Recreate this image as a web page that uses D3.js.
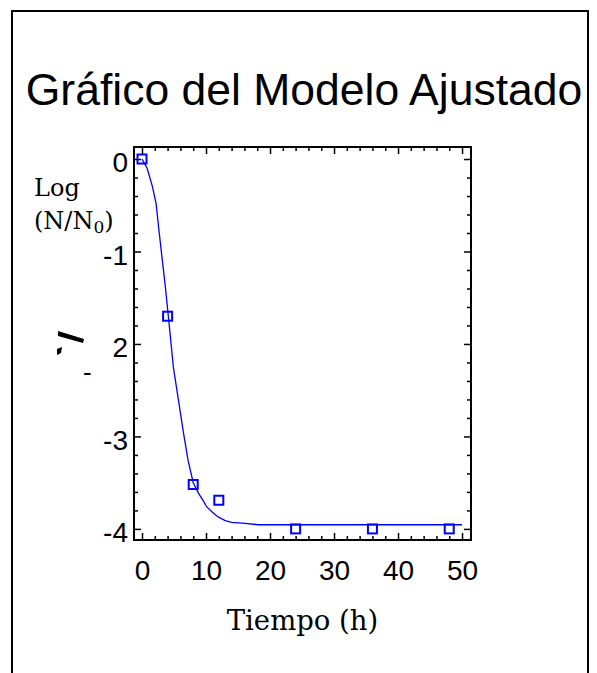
<!DOCTYPE html>
<html>
<head>
<meta charset="utf-8">
<script src="https://cdn.jsdelivr.net/npm/d3@7"></script>
<style>
  body { margin: 0; background: #fff; }
  svg { display: block; }
</style>
</head>
<body>
<svg id="s" width="597" height="673"></svg>
<script>
// Data
const obsTime = [0, 4, 8, 12, 24, 36, 48],
  obsLog = [0, -1.70, -3.52, -3.69, -4.00, -4.00, -4.00],
  fitTime = [0, 0.8, 1.6, 2.2, 2.6, 3.1, 3.6, 4.1, 4.9, 5.7, 6.5, 7.2, 8.0, 8.8, 9.6, 10.1, 11.0, 11.9, 13.0, 14.0, 16.1, 18.2, 20, 30, 40, 50],
  fitLog = [0, -0.10, -0.29, -0.48, -0.74, -1.05, -1.35, -1.69, -2.25, -2.61, -2.97, -3.26, -3.50, -3.61, -3.70, -3.76, -3.82, -3.87, -3.91, -3.93, -3.94, -3.955, -3.955, -3.955, -3.955, -3.955],
  xTicks = [0, 10, 20, 30, 40, 50],
  yTicks = [0, -1, -2, -3, -4],
  yTickLabels = ["0", "-1", "2", "-3", "-4"];

const svg = d3.select("#s"),
  blue = "#0000ff",
  pL = 134, pR = 471, pT = 147, pB = 540;

// outer frame (bottom edge is off the page)
svg.append("rect")
  .attr("x", 12).attr("y", 11)
  .attr("width", 576).attr("height", 700)
  .attr("fill", "none").attr("stroke", "#000").attr("stroke-width", 2);

svg.append("text")
  .attr("x", 304).attr("y", 105)
  .attr("text-anchor", "middle")
  .style("font", "44.5px 'Liberation Sans', Arial, sans-serif")
  .text("Gráfico del Modelo Ajustado");

const x = d3.scaleLinear().domain([-1.25, 51.4]).range([pL, pR]),
  y = d3.scaleLinear().domain([0.13, -4.12]).range([pT, pB]);

const minorX = d3.range(0, 51, 2).filter(v => v % 10),
  minorY = d3.range(0, 21).map(i => -i * 0.2).filter((v, i) => i % 5);

const tickStyle = g => {
  g.select(".domain").remove();
  g.selectAll("line").attr("stroke", "#000").attr("stroke-width", 1.5);
  g.selectAll("text")
    .style("font", "28px 'Liberation Sans', Arial, sans-serif")
    .attr("fill", "#000");
};

// major ticks + labels
svg.append("g").attr("transform", `translate(0,${pB})`)
  .call(d3.axisBottom(x).tickValues(xTicks).tickSize(-7).tickPadding(20).tickFormat(d3.format("d")))
  .call(tickStyle)
  .call(g => g.selectAll("text").attr("dy", "0.71em"));
svg.append("g").attr("transform", `translate(0,${pT})`)
  .call(d3.axisTop(x).tickValues(xTicks).tickSize(-7).tickFormat(""))
  .call(tickStyle);
svg.append("g").attr("transform", `translate(${pL},0)`)
  .call(d3.axisLeft(y).tickValues(yTicks).tickSize(-7).tickPadding(6).tickFormat((d, i) => yTickLabels[i]))
  .call(tickStyle)
  .call(g => g.selectAll("text").attr("dy", "0.45em"));
svg.append("g").attr("transform", `translate(${pR},0)`)
  .call(d3.axisRight(y).tickValues(yTicks).tickSize(-7).tickFormat(""))
  .call(tickStyle);

// minor ticks
[[d3.axisBottom, pB], [d3.axisTop, pT]].forEach(([ax, pos]) => {
  svg.append("g").attr("transform", `translate(0,${pos})`)
    .call(ax(x).tickValues(minorX).tickSize(-4).tickFormat(""))
    .call(tickStyle);
});
[[d3.axisLeft, pL], [d3.axisRight, pR]].forEach(([ax, pos]) => {
  svg.append("g").attr("transform", `translate(${pos},0)`)
    .call(ax(y).tickValues(minorY).tickSize(-4).tickFormat(""))
    .call(tickStyle);
});

// plot frame
svg.append("rect")
  .attr("x", pL).attr("y", pT)
  .attr("width", pR - pL).attr("height", pB - pT)
  .attr("fill", "none").attr("stroke", "#000").attr("stroke-width", 2);

// fitted curve
svg.append("path")
  .datum(fitTime.map((t, i) => [t, fitLog[i]]))
  .attr("fill", "none").attr("stroke", blue).attr("stroke-width", 1.3)
  .attr("d", d3.line().x(d => x(d[0])).y(d => y(d[1])));

// observations
svg.append("g").selectAll("rect")
  .data(obsTime.map((t, i) => [t, obsLog[i]]))
  .join("rect")
  .attr("x", d => x(d[0]) - 4.5).attr("y", d => y(d[1]) - 4.5)
  .attr("width", 9).attr("height", 9)
  .attr("fill", "none").attr("stroke", blue).attr("stroke-width", 2);

// axis titles
const serif = "'DejaVu Serif', 'Liberation Serif', serif";
svg.append("text")
  .attr("x", 34).attr("y", 196)
  .style("font", `24px ${serif}`)
  .text("Log");
const nt = svg.append("text")
  .attr("x", 34).attr("y", 229)
  .style("font", `24px ${serif}`);
nt.append("tspan").text("(N/N");
nt.append("tspan").attr("font-size", 17).attr("dy", 4).text("0");
nt.append("tspan").attr("dy", -4).text(")");

svg.append("text")
  .attr("x", (pL + pR) / 2).attr("y", 630)
  .attr("text-anchor", "middle")
  .style("font", `27.5px ${serif}`)
  .text("Tiempo (h)");

// leftovers of a hidden y title
svg.append("path")
  .attr("d", "M58,331 L84,339 L83,343 L58,336 Z M57,349 L62,347 L61,353 L57,355 Z")
  .attr("fill", "#000");
svg.append("text")
  .attr("x", 83).attr("y", 381)
  .style("font", "26px 'Liberation Sans', Arial, sans-serif")
  .text("-");
</script>
</body>
</html>
